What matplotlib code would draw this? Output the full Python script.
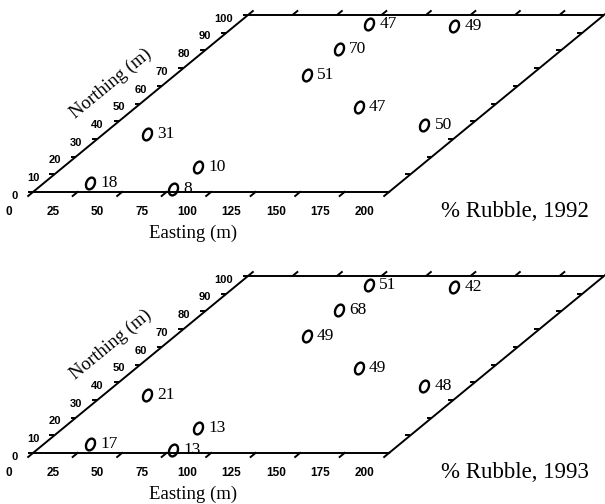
import numpy as np
import matplotlib
matplotlib.use("Agg")
import matplotlib.pyplot as plt
from matplotlib.path import Path
from matplotlib.markers import MarkerStyle
from matplotlib.transforms import Affine2D

# survey sites (m) and % rubble at each site
easting = [26, 77, 76, 24, 74, 74, 74, 123, 125, 174]
northing = [5, 1.5, 14, 33, 66, 81, 95, 94, 48, 38]
rubble_1992 = [18, 8, 10, 31, 51, 70, 47, 49, 47, 50]
rubble_1993 = [17, 13, 13, 21, 49, 68, 51, 42, 49, 48]

years = [1992, 1993]
rubble = [rubble_1992, rubble_1993]

east_ticks = [0, 25, 50, 75, 100, 125, 150, 175, 200]
north_ticks = [0, 10, 20, 30, 40, 50, 60, 70, 80, 90, 100]
east_max, north_max = 200, 100

# layout (pixels)
W, H, DPI = 605, 504, 100
PX = 1.78            # px per metre of easting
SHEAR = 2.15 / PX    # sideways shift per metre of northing
YSCALE = 1.77 / PX
X0 = 33              # px column of the origin
panels = [(0, 252, 192), (252, 504, 453)]  # top row, bottom row, row of northing=0

SERIF = "Liberation Serif"
SANS = "Liberation Sans"

# italic looking "O" used as the site marker
o_path = Path.unit_circle().transformed(Affine2D().scale(0.74, 1.0).skew_deg(12, 0))
o_marker = MarkerStyle(o_path)

fig = plt.figure(figsize=(W / DPI, H / DPI), dpi=DPI)

for (top, bottom, base), year, values in zip(panels, years, rubble):
    ax = fig.add_axes([0, 1 - bottom / H, 1, (bottom - top) / H])
    ax.set_xlim(-X0 / PX, (W - X0) / PX)
    ax.set_ylim(-(bottom - base) / PX, (base - top) / PX)
    ax.axis("off")

    # oblique view: easting along x, northing slanted up to the right
    shear = Affine2D(np.array([[1, SHEAR, 0], [0, YSCALE, 0], [0, 0, 1]]))
    tr = shear + ax.transData
    kw = dict(transform=tr, color="black", lw=1.4, solid_capstyle="butt")

    ax.plot([0, east_max, east_max, 0, 0], [0, 0, north_max, north_max, 0],
            solid_joinstyle="miter", **kw)

    for e in east_ticks:
        ax.plot([e, e], [-2.6, 0.4], **kw)
        ax.plot([e, e], [north_max, north_max + 2.6], **kw)
        ax.text(e, -11.3, str(e), transform=tr, ha="center", va="center",
                fontsize=8.5, family=SANS, fontweight="bold")
    for n in north_ticks:
        ax.plot([-3, 0], [n, n], **kw)
        ax.plot([east_max - 3, east_max], [n, n], **kw)
        ax.text(-6, n - 2.1, str(n), transform=tr, ha="right", va="center",
                fontsize=8, family=SANS, fontweight="bold")

    ax.plot(easting, northing, ls="none", marker=o_marker, ms=8.5, mfc="none",
            mec="black", mew=1.7, transform=tr)
    for e, n, v in zip(easting, northing, values):
        ax.annotate(str(v), xy=(e, n), xycoords=tr, xytext=(7.5, 0),
                    textcoords="offset points", ha="left", va="center",
                    fontsize=12.5, family=SERIF)

    ax.text(90.2, -25.8, "Easting (m)", ha="center", va="baseline",
            fontsize=13.5, family=SERIF)
    ax.text(-30, 61, "Northing (m)", transform=tr, rotation=39.5,
            rotation_mode="anchor", ha="center", va="center",
            fontsize=13.5, family=SERIF)
    ax.text(270.8, -14.2, f"% Rubble, {year}", ha="center", va="baseline",
            fontsize=16.5, family=SERIF)

fig.savefig("out.png", dpi=DPI)
